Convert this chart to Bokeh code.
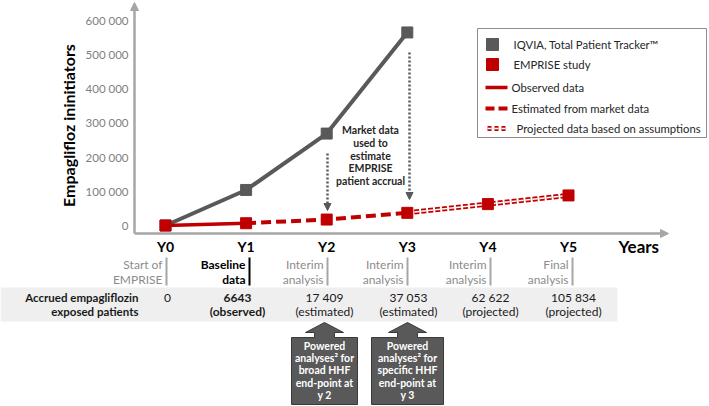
from bokeh.plotting import figure
from bokeh.models import Range1d, Arrow, NormalHead
from bokeh.core.properties import value
from bokeh.embed import file_html
from bokeh.resources import INLINE

# ---------------- data ----------------
years = ["Y0", "Y1", "Y2", "Y3", "Y4", "Y5"]
year_idx = [0, 1, 2, 3, 4, 5]
iqvia_years = [0, 1, 2, 3]
iqvia_values = [0, 104000, 269000, 565000]
emprise_values = [0, 6643, 17409, 37053, 62622, 88000]
accrued = [0, 6643, 17409, 37053, 62622, 105834]
accrued_notes = ["", "(observed)", "(estimated)", "(estimated)", "(projected)", "(projected)"]
milestone_1 = ["Start of", "Baseline", "Interim", "Interim", "Interim", "Final"]
milestone_2 = ["EMPRISE", "data", "analysis", "analysis", "analysis", "analysis"]
y_ticks = [0, 100000, 200000, 300000, 400000, 500000, 600000]
box_texts = [
    ["Powered", "analyses\u00b2 for", "broad HHF", "end-point at", "y 2"],
    ["Powered", "analyses\u00b2 for", "specific HHF", "end-point at", "y 3"],
]
legend_labels = ["IQVIA, Total Patient Tracker\u2122", "EMPRISE study", "Observed data",
                 "Estimated from market data", "Projected data based on assumptions"]

# ---------------- layout helpers (pixel layout of the page) ----------------
W, H = 709, 406
X0PX, XSTEP = 165.0, 80.6
Y0PX, YPX100K = 225.0, 34.17


def dx(px):
    return (px - X0PX) / XSTEP


def dy(py):
    return (Y0PX - py) * 100000.0 / YPX100K


FONT = value("Lato")
GRAY = "#595959"
RED = "#c00000"
AXIS = "#a6a6a6"

p = figure(width=W, height=H, x_range=Range1d(dx(0), dx(W)), y_range=Range1d(dy(H), dy(0)),
           output_backend="svg", toolbar_location=None, min_border=0,
           x_axis_location=None, y_axis_location=None)
p.grid.visible = False
p.outline_line_color = None
p.background_fill_color = "white"

# table band
p.quad(left=dx(0), right=dx(617), top=dy(287), bottom=dy(321), fill_color="#efefef", line_color=None)

# axes (arrows)
p.add_layout(Arrow(end=NormalHead(size=8, fill_color=AXIS, line_color=AXIS),
                   x_start=dx(134), y_start=dy(233), x_end=dx(668), y_end=dy(233),
                   line_color=AXIS, line_width=2.5))
p.add_layout(Arrow(end=NormalHead(size=8, fill_color=AXIS, line_color=AXIS),
                   x_start=dx(134), y_start=dy(233), x_end=dx(134), y_end=dy(2),
                   line_color=AXIS, line_width=2.5))

# y tick labels
p.text(x=[dx(128)] * len(y_ticks), y=y_ticks,
       text=[f"{v:,}".replace(",", " ") for v in y_ticks],
       text_font=FONT, text_font_size="11.5px", text_color="#7f7f7f",
       text_align="right", text_baseline="middle")
# y axis title
p.text(x=[dx(68)], y=[dy(125)], text=["Empaglifloz ininitiators"], angle=1.5708,
       text_font=FONT, text_font_size="16px", text_font_style="bold", text_color="black",
       text_align="center", text_baseline="middle")

# x tick labels
p.text(x=year_idx, y=[dy(246)] * 6, text=years, text_font=FONT, text_font_size="14px",
       text_font_style="bold", text_color="black", text_align="center", text_baseline="middle")
p.text(x=[dx(618)], y=[dy(246)], text=["Years"], text_font=FONT, text_font_size="17px",
       text_font_style="bold", text_color="black", text_align="left", text_baseline="middle")

# milestone labels with bars
bar_px = [166, 249, 327, 407, 490, 572]
for i in range(6):
    bold = i == 1
    col = "black" if bold else "#8c8c8c"
    bar_col = "black" if bold else "#a6a6a6"
    p.text(x=[dx(bar_px[i] - 4)] * 2, y=[dy(264), dy(279)], text=[milestone_1[i], milestone_2[i]],
           text_font=FONT, text_font_size="12px", text_font_style="bold" if bold else "normal",
           text_color=col, text_align="right", text_baseline="middle")
    p.segment(x0=[dx(bar_px[i])], y0=[dy(257)], x1=[dx(bar_px[i])], y1=[dy(285)],
              line_color=bar_col, line_width=2)

# table row
p.text(x=[dx(138)] * 2, y=[dy(297), dy(311)], text=["Accrued empagliflozin", "exposed patients"],
       text_font=FONT, text_font_size="11.5px", text_font_style="bold", text_color="#1a1a1a",
       text_align="right", text_baseline="middle")
col_px = [167, 237, 324, 408, 490, 573]
for i in range(6):
    v = accrued[i]
    s = f"{v:,}".replace(",", " ") if v >= 10000 else str(v)
    style = "bold" if i == 1 else "normal"
    p.text(x=[dx(col_px[i])], y=[dy(297)], text=[s], text_font=FONT, text_font_size="12px",
           text_font_style=style, text_color="#1a1a1a", text_align="center", text_baseline="middle")
    if accrued_notes[i]:
        p.text(x=[dx(col_px[i])], y=[dy(311)], text=[accrued_notes[i]], text_font=FONT,
               text_font_size="12px", text_font_style=style, text_color="#1a1a1a",
               text_align="center", text_baseline="middle")

# powered-analysis boxes with up arrows
for cx, hw, lines in [(324, 33, box_texts[0]), (407, 36, box_texts[1])]:
    pts = [(cx - hw, 404), (cx - hw, 337), (cx - 10, 337), (cx - 10, 332), (cx - 19, 332),
           (cx, 322), (cx + 19, 332), (cx + 10, 332), (cx + 10, 337), (cx + hw, 337), (cx + hw, 404)]
    p.patch(x=[dx(a) for a, b in pts], y=[dy(b) for a, b in pts], fill_color=GRAY,
            line_color="#3a3a3a", line_width=1)
    p.text(x=[dx(cx)] * 5, y=[dy(v) for v in (345, 357, 369, 382, 394)], text=lines,
           text_font=FONT, text_font_size="10.5px", text_font_style="bold", text_color="white",
           text_align="center", text_baseline="middle")

# data lines
p.line(x=iqvia_years, y=iqvia_values, line_color=GRAY, line_width=4)
p.line(x=year_idx[0:2], y=emprise_values[0:2], line_color=RED, line_width=3.5)
p.line(x=year_idx[1:4], y=emprise_values[1:4], line_color=RED, line_width=4, line_dash="10 5")
p.line(x=year_idx[3:6], y=emprise_values[3:6], line_color=RED, line_width=5, line_dash="5 2")
p.line(x=year_idx[3:6], y=emprise_values[3:6], line_color="white", line_width=1.5, line_dash="5 2")

p.scatter(x=iqvia_years, y=iqvia_values, marker="square", size=11, color=GRAY)
p.scatter(x=year_idx, y=emprise_values, marker="square", size=11, color=RED)

# dotted arrows + annotation
for xpx, y0, y1 in [(327, 153, 210), (409, 52, 199)]:
    p.add_layout(Arrow(end=NormalHead(size=7, fill_color=GRAY, line_color=GRAY),
                       x_start=dx(xpx), y_start=dy(y0), x_end=dx(xpx), y_end=dy(y1),
                       line_color=GRAY, line_width=2.5, line_dash="2 2"))
p.text(x=[dx(370)] * 5, y=[dy(v) for v in (129, 142, 155, 167, 180)],
       text=["Market data", "used to", "estimate", "EMPRISE", "patient accrual"],
       text_font=FONT, text_font_size="10.5px", text_font_style="bold", text_color="#262626",
       text_align="center", text_baseline="middle")

# legend
p.quad(left=dx(477), right=dx(706), top=dy(28), bottom=dy(137), fill_color="white",
       line_color="#8c8c8c", line_width=1)
p.scatter(x=[dx(492)], y=[dy(44)], marker="square", size=12, color=GRAY)
p.scatter(x=[dx(492)], y=[dy(64)], marker="square", size=12, color=RED)
p.line(x=[dx(485), dx(507)], y=[dy(87)] * 2, line_color=RED, line_width=3.5)
p.line(x=[dx(485), dx(508)], y=[dy(108)] * 2, line_color=RED, line_width=4, line_dash="9 4")
p.line(x=[dx(487), dx(507)], y=[dy(128)] * 2, line_color=RED, line_width=5, line_dash="4 3")
p.line(x=[dx(487), dx(507)], y=[dy(128)] * 2, line_color="white", line_width=1.5, line_dash="4 3")
p.text(x=[dx(513), dx(513), dx(511), dx(511), dx(516)],
       y=[dy(44), dy(64), dy(87), dy(108), dy(128)], text=legend_labels,
       text_font=FONT, text_font_size="11.3px", text_color="#262626",
       text_align="left", text_baseline="middle")

open("out.html", "w").write(file_html(p, INLINE))
